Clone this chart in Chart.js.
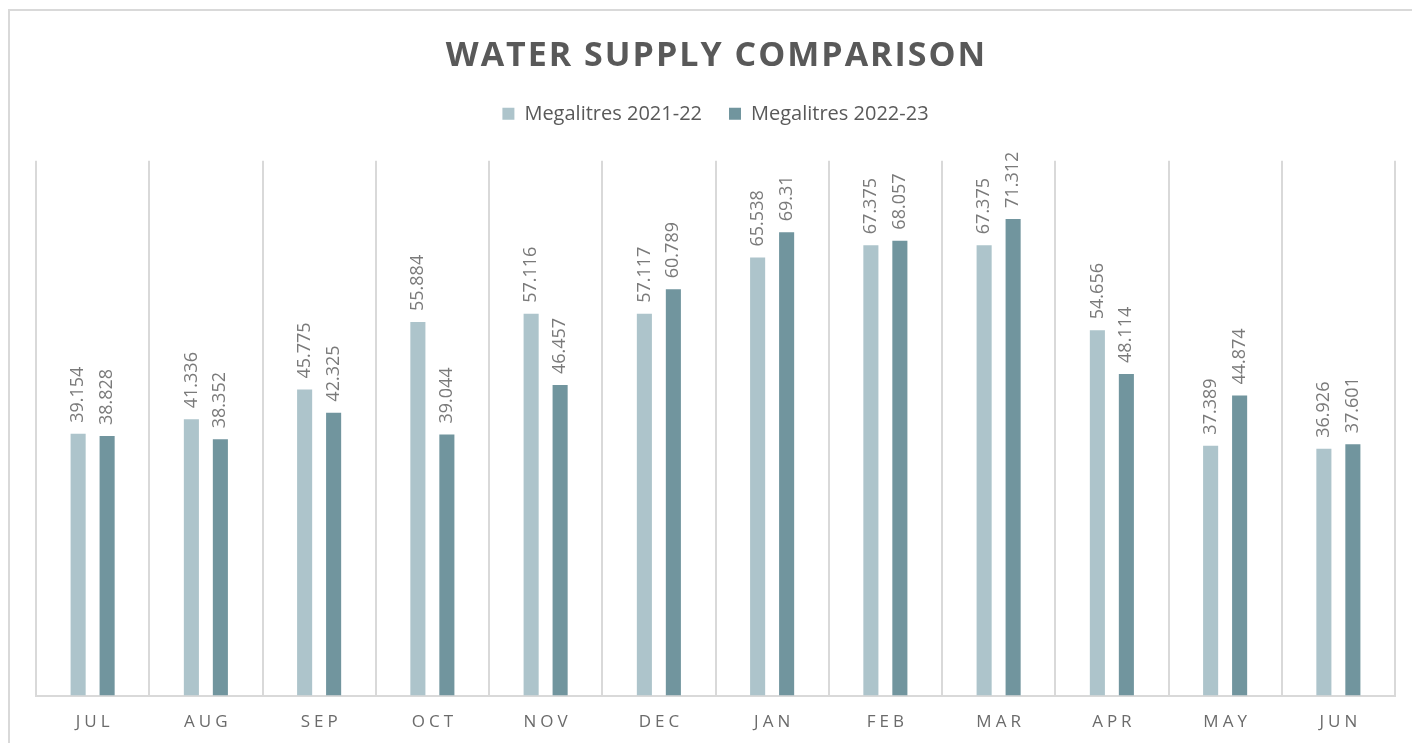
<!DOCTYPE html>
<html>
<head>
<meta charset="utf-8">
<title>Water Supply Comparison</title>
<script src="https://cdn.jsdelivr.net/npm/chart.js@4.4.1/dist/chart.umd.min.js"></script>
<style>
  html, body { margin: 0; padding: 0; background: #fff; overflow: hidden; }
  .frame {
    position: absolute; left: 8px; top: 9px; width: 1500px; height: 800px;
    border: 2px solid #d9d9d9;
  }
  #chart { position: absolute; left: 0; top: 0; }
</style>
</head>
<body>
<div class="frame"></div>
<canvas id="chart" width="1412" height="743"></canvas>
<script>
const months = ['JUL', 'AUG', 'SEP', 'OCT', 'NOV', 'DEC', 'JAN', 'FEB', 'MAR', 'APR', 'MAY', 'JUN'];
const supply2122 = [39.154, 41.336, 45.775, 55.884, 57.116, 57.117, 65.538, 67.375, 67.375, 54.656, 37.389, 36.926];
const supply2223 = [38.828, 38.352, 42.325, 39.044, 46.457, 60.789, 69.31, 68.057, 71.312, 48.114, 44.874, 37.601];
const seriesNames = ['Megalitres 2021-22', 'Megalitres 2022-23'];

// letter spacing for the title and month labels, extra room under the legend
const spacingPlugin = {
  id: 'spacing',
  beforeInit(chart) {
    const fit = chart.legend.fit;
    chart.legend.fit = function () {
      fit.call(this);
      this.height += 27;
    };
  },
  beforeDraw(chart) {
    chart.ctx.letterSpacing = '0px';
    const tb = chart.titleBlock;
    if (tb && !tb._spaced) {
      const draw = tb.draw;
      tb.draw = function () {
        const c = this.ctx;
        c.save();
        c.letterSpacing = '2px';
        c.translate(1, 0);
        draw.call(this);
        c.restore();
      };
      tb._spaced = true;
    }
    const sx = chart.scales.x;
    if (sx && !sx._spaced) {
      const drawLabels = sx.drawLabels;
      sx.drawLabels = function (area) {
        const c = this.ctx;
        c.save();
        c.letterSpacing = '4px';
        c.translate(2, 0);
        drawLabels.call(this, area);
        c.restore();
      };
      sx._spaced = true;
    }
  }
};

// rotated value labels above each bar
const valueLabels = {
  id: 'valueLabels',
  afterDatasetsDraw(chart) {
    const ctx = chart.ctx;
    chart.data.datasets.forEach((ds, i) => {
      const meta = chart.getDatasetMeta(i);
      meta.data.forEach((bar, j) => {
        ctx.save();
        ctx.letterSpacing = '0px';
        ctx.translate(bar.x, bar.y - 11);
        ctx.rotate(-Math.PI / 2);
        ctx.font = '18px "Open Sans"';
        ctx.fillStyle = '#7a7a7a';
        ctx.textAlign = 'left';
        ctx.textBaseline = 'middle';
        ctx.fillText(String(ds.data[j]), 0, 0);
        ctx.restore();
      });
    });
  }
};

new Chart(document.getElementById('chart'), {
  type: 'bar',
  data: {
    labels: months,
    datasets: [{
      label: seriesNames[0],
      data: supply2122,
      backgroundColor: '#adc4cb'
    }, {
      label: seriesNames[1],
      data: supply2223,
      backgroundColor: '#71959e'
    }]
  },
  options: {
    responsive: false,
    animation: false,
    events: [],
    categoryPercentage: 0.512,
    barPercentage: 0.52,
    layout: { padding: { left: 36, right: 17, top: 36, bottom: -5 } },
    plugins: {
      title: {
        display: true,
        text: 'WATER SUPPLY COMPARISON',
        color: '#595959',
        font: { family: '"Open Sans"', size: 34, weight: 'bold' },
        padding: { top: 0, bottom: 0 }
      },
      legend: {
        labels: {
          color: '#595959',
          font: { family: '"Open Sans"', size: 20 },
          boxWidth: 12,
          boxHeight: 12,
          padding: 27
        }
      },
      tooltip: { enabled: false }
    },
    scales: {
      x: {
        grid: { color: '#d9d9d9', lineWidth: 2, drawTicks: false },
        border: { color: '#d9d9d9', width: 2 },
        ticks: {
          color: '#6b6b6b',
          font: { family: '"Open Sans"', size: 17 },
          padding: 16
        }
      },
      y: {
        display: false,
        min: 0,
        max: 80
      }
    }
  },
  plugins: [spacingPlugin, valueLabels]
});
</script>
</body>
</html>
